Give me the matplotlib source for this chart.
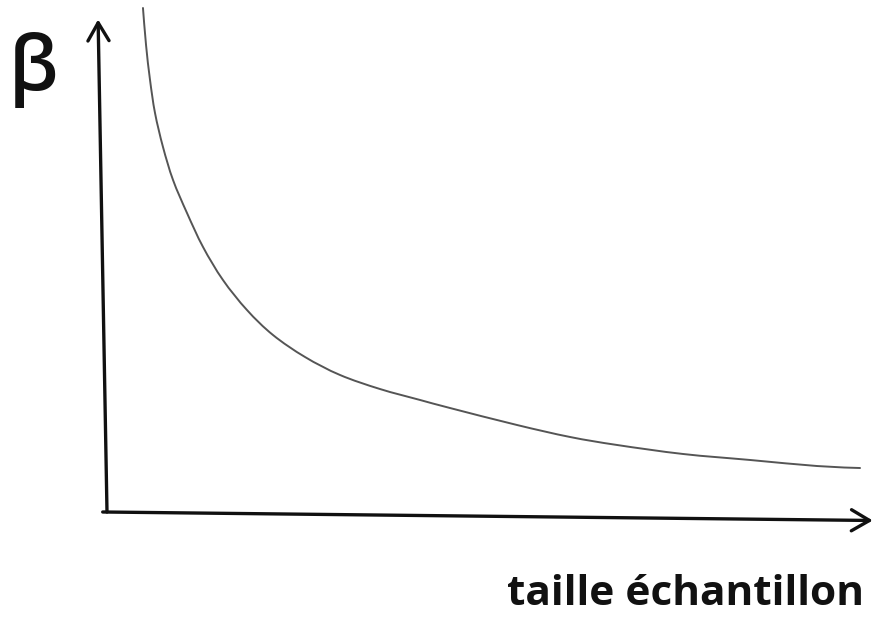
import matplotlib
matplotlib.use("Agg")
import matplotlib.pyplot as plt
from matplotlib.path import Path
from matplotlib.patches import PathPatch

# curve (sample size -> beta, arbitrary units)
sample_size = [4.95, 5.35, 5.87, 6.52, 7.56, 8.87, 10.69, 12.78, 15.38, 18.51,
               21.90, 26.08, 30.64, 35.85, 41.07, 44.98, 53.72, 60.63, 66.75,
               75.36, 84.09, 92.83, 98.44]
beta = [98.44, 91.21, 84.38, 77.93, 71.29, 64.84, 58.40, 51.76, 45.31, 39.45,
        34.57, 30.27, 26.76, 24.02, 21.88, 20.31, 16.99, 14.65, 13.09,
        11.33, 10.16, 8.98, 8.59]

x_label = "taille échantillon"
y_label = "β"

fig = plt.figure(figsize=(8.74, 6.19), dpi=100)
ax = fig.add_axes([0, 0, 1, 1])
ax.set_xlim(-13.69, 100.26)
ax.set_ylim(-20.9, 100)
ax.axis("off")

# smooth rendering of the read points (Catmull-Rom as cubic Bezier segments)
pts = list(zip(sample_size, beta))
verts = [pts[0]]
codes = [Path.MOVETO]
for i in range(len(pts) - 1):
    p0 = pts[i - 1] if i > 0 else pts[i]
    p1 = pts[i]
    p2 = pts[i + 1]
    p3 = pts[i + 2] if i + 2 < len(pts) else pts[i + 1]
    c1 = (p1[0] + (p2[0] - p0[0]) / 6.0, p1[1] + (p2[1] - p0[1]) / 6.0)
    c2 = (p2[0] - (p3[0] - p1[0]) / 6.0, p2[1] - (p3[1] - p1[1]) / 6.0)
    verts += [c1, c2, p2]
    codes += [Path.CURVE4] * 3
ax.add_patch(PathPatch(Path(verts, codes), facecolor="none",
                       edgecolor="#555555", lw=1.4, capstyle="round"))

# axes arrows
style = "->,head_length=0.65,head_width=0.38"
ax.annotate("", xy=(-0.9, 96.2), xytext=(0.26, 0),
            arrowprops=dict(arrowstyle=style, lw=2.4, color="#111111",
                            shrinkA=0, shrinkB=0, mutation_scale=20))
ax.annotate("", xy=(100.1, -1.66), xytext=(-0.3, 0),
            arrowprops=dict(arrowstyle=style, lw=2.4, color="#111111",
                            shrinkA=0, shrinkB=0, mutation_scale=20))

ax.text(-9.3, 86.3, y_label, fontsize=55, family="Open Sans",
        fontweight="semibold", ha="center", va="center", color="#111111")
ax.text(98.9, -18.2, x_label, fontsize=30.5, family="Open Sans",
        fontweight="bold", ha="right", va="baseline", color="#111111")

fig.savefig("out.png", dpi=100)
